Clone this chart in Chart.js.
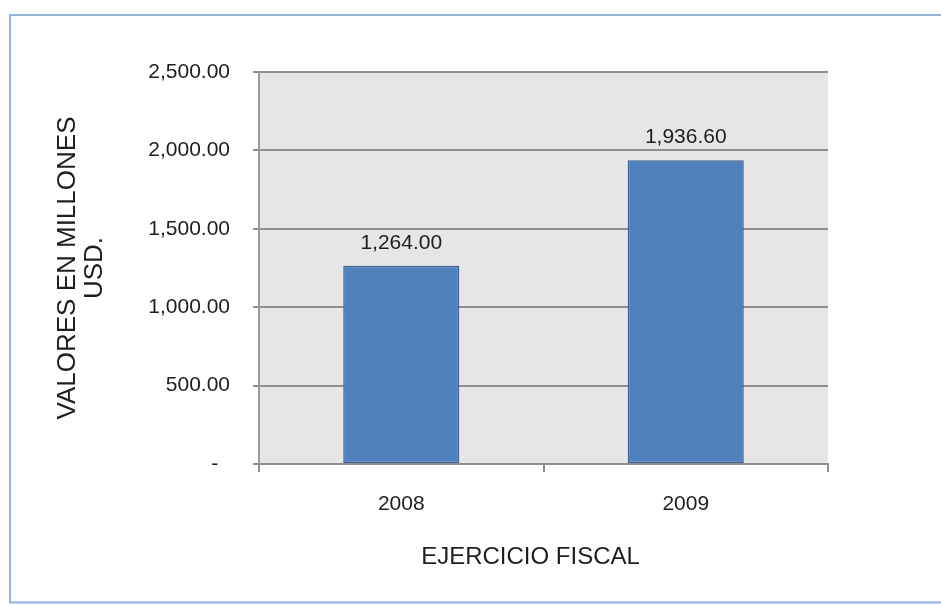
<!DOCTYPE html>
<html>
<head>
<meta charset="utf-8">
<script src="https://cdn.jsdelivr.net/npm/chart.js@4/dist/chart.umd.min.js"></script>
<style>
  html, body { margin: 0; padding: 0; background: #ffffff; }
  #wrap { width: 941px; height: 604px; }
</style>
</head>
<body>
<div id="wrap"><canvas id="c" width="941" height="604"></canvas></div>
<script>
// Ingresos por ejercicio fiscal (millones de USD)
const years = ['2008', '2009'];
const values = [1264.00, 1936.60];
const yTickValues = [0, 500, 1000, 1500, 2000, 2500];
const yTitle = ['VALORES EN MILLONES', 'USD.'];
const xTitle = 'EJERCICIO FISCAL';

const FONT = '"Liberation Sans", Arial, sans-serif';
const TEXT = '#1e1e1e';
const GRID = '#8f8f8f';

const fmt = v => v.toLocaleString('en-US', { minimumFractionDigits: 2, maximumFractionDigits: 2 });

// gray plot background and the light-blue frame around the figure
const framePlugin = {
  id: 'frame',
  beforeDraw(chart) {
    const { ctx, chartArea: a } = chart;
    ctx.save();
    ctx.fillStyle = '#e6e6e6';
    ctx.fillRect(a.left, a.top, a.right - a.left, a.bottom - a.top);
    ctx.restore();
  },
  afterDraw(chart) {
    const { ctx } = chart;
    ctx.save();
    ctx.strokeStyle = '#93b3d9';
    ctx.lineWidth = 2;
    ctx.strokeRect(10, 15, chart.width + 10, 587.5);
    ctx.restore();
  }
};

// value labels above each bar
const valueLabels = {
  id: 'valueLabels',
  afterDatasetsDraw(chart) {
    const { ctx } = chart;
    const meta = chart.getDatasetMeta(0);
    ctx.save();
    ctx.font = '21px ' + FONT;
    ctx.fillStyle = TEXT;
    ctx.textAlign = 'center';
    ctx.textBaseline = 'middle';
    meta.data.forEach((bar, i) => {
      ctx.fillText(fmt(values[i]), bar.x, bar.y - 23);
    });
    ctx.restore();
  }
};

// horizontal axis title, set a little left of the plot centre
const xTitlePlugin = {
  id: 'xTitle',
  afterDraw(chart) {
    const { ctx, chartArea: a } = chart;
    ctx.save();
    ctx.font = '24px ' + FONT;
    ctx.fillStyle = TEXT;
    ctx.textAlign = 'center';
    ctx.textBaseline = 'middle';
    ctx.fillText(xTitle, (a.left + a.right) / 2 - 13, a.bottom + 93);
    ctx.restore();
  }
};

new Chart(document.getElementById('c'), {
  type: 'bar',
  data: {
    labels: years,
    datasets: [{
      data: values,
      backgroundColor: '#4f81bd',
      borderColor: '#3a6493',
      borderWidth: 1.5,
      borderSkipped: false,
      barPercentage: 0.408,
      categoryPercentage: 1.0
    }]
  },
  options: {
    responsive: false,
    devicePixelRatio: 1,
    animation: false,
    layout: { padding: { top: 72, right: 113, bottom: 0, left: 0 } },
    plugins: {
      legend: { display: false },
      tooltip: { enabled: false }
    },
    scales: {
      x: {
        offset: true,
        grid: {
          offset: true,
          drawOnChartArea: false,
          drawTicks: true,
          tickLength: 8,
          color: GRID,
          lineWidth: 2
        },
        border: { display: true, color: GRID, width: 2 },
        ticks: {
          color: TEXT,
          padding: 20,
          font: { family: FONT, size: 21 }
        },
        afterFit(scale) { scale.height = 140; }
      },
      y: {
        min: 0,
        max: 2500,
        afterBuildTicks(scale) { scale.ticks = yTickValues.map(v => ({ value: v })); },
        grid: {
          color: GRID,
          lineWidth: 2,
          tickLength: 6
        },
        border: { display: true, color: '#9a9a9a', width: 2 },
        ticks: {
          color: TEXT,
          padding: 23,
          font: { family: FONT, size: 21 },
          callback: v => v === 0 ? '-  ' : fmt(v)
        },
        title: {
          display: true,
          text: yTitle,
          color: TEXT,
          font: { family: FONT, size: 26, lineHeight: 1.05 },
          padding: { top: 54, bottom: 0 }
        },
        afterFit(scale) { scale.width = 259; }
      }
    }
  },
  plugins: [framePlugin, valueLabels, xTitlePlugin]
});
</script>
</body>
</html>
